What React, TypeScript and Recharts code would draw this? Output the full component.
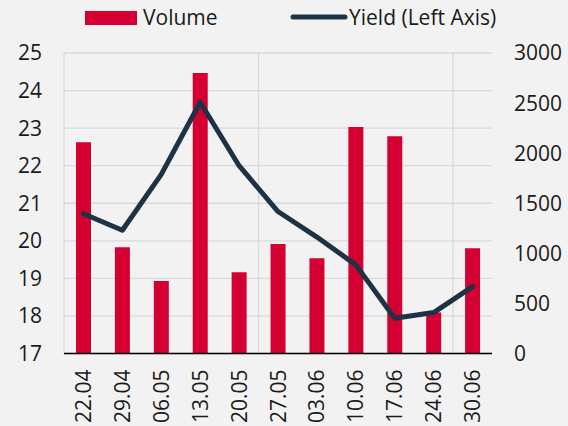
import { Bar, CartesianGrid, ComposedChart, Legend, Line, XAxis, YAxis } from "recharts"

const dates = ["22.04", "29.04", "06.05", "13.05", "20.05", "27.05", "03.06", "10.06", "17.06", "24.06", "30.06"]
const volume = [2110, 1060, 724, 2800, 810, 1093, 950, 2260, 2170, 410, 1050]
const yieldValues = [20.72, 20.28, 21.77, 23.69, 22.0, 20.78, 20.1, 19.36, 17.94, 18.09, 18.78]
const leftTicks = [17, 18, 19, 20, 21, 22, 23, 24, 25]
const rightTicks = [0, 500, 1000, 1500, 2000, 2500, 3000]

const data = dates.map((date, i) => ({ date, volume: volume[i], yield: yieldValues[i] }))

const RED = "#d50032"
const NAVY = "#1e3246"
const FONT = "'Open Sans', sans-serif"

function DateTick({ x, y, payload }: any) {
  return (
    <text
      x={x}
      y={y}
      transform={`rotate(-90, ${x}, ${y})`}
      textAnchor="end"
      dy="0.36em"
      fontSize={21}
      fontFamily={FONT}
      fill="#1a1a1a"
    >
      {payload.value}
    </text>
  )
}

function LegendBox() {
  return (
    <svg width={568} height={40} style={{ display: "block" }}>
      <rect x={85} y={11} width={52} height={14} fill={RED} />
      <text x={143} y={25} fontSize={21} fontFamily={FONT} fill="#1a1a1a">Volume</text>
      <line x1={293} y1={17} x2={345} y2={17} stroke={NAVY} strokeWidth={5} strokeLinecap="round" />
      <text x={349} y={25} fontSize={21} fontFamily={FONT} fill="#1a1a1a">Yield (Left Axis)</text>
    </svg>
  )
}

export default function App() {
  return (
    <div style={{ position: "absolute", left: 0, top: 0, width: 568, height: 426, background: "#f2f2f2" }}>
      <ComposedChart width={568} height={426} data={data} margin={{ top: 53, right: 0, left: 0, bottom: 0 }} barSize={15}>
        <CartesianGrid
          yAxisId="left"
          stroke="#d9d9d9"
          strokeWidth={1.3}
          verticalCoordinatesGenerator={({ offset }: any) =>
            [0, 5, 10].map((i) => offset.left + (offset.width * i) / dates.length)
          }
        />
        <XAxis
          dataKey="date"
          height={72.5}
          interval={0}
          tickLine={false}
          axisLine={{ stroke: "#000", strokeWidth: 1.5 }}
          tickMargin={10}
          tick={<DateTick />}
        />
        <YAxis
          yAxisId="left"
          width={64}
          domain={[17, 25]}
          ticks={leftTicks}
          axisLine={false}
          tickLine={false}
          tickMargin={16}
          tick={{ fill: "#1a1a1a", fontSize: 21, fontFamily: FONT }}
        />
        <YAxis
          yAxisId="right"
          orientation="right"
          width={76}
          domain={[0, 3000]}
          ticks={rightTicks}
          axisLine={false}
          tickLine={false}
          tickMargin={16}
          tick={{ fill: "#1a1a1a", fontSize: 21, fontFamily: FONT, textAnchor: "start" }}
        />
        <Legend verticalAlign="middle" wrapperStyle={{ top: 0, left: 0, width: 568 }} content={<LegendBox />} />
        <Bar yAxisId="right" dataKey="volume" name="Volume" fill={RED} isAnimationActive={false} />
        <Line
          yAxisId="left"
          dataKey="yield"
          name="Yield (Left Axis)"
          stroke={NAVY}
          strokeWidth={5}
          strokeLinejoin="round"
          strokeLinecap="round"
          dot={false}
          activeDot={false}
          isAnimationActive={false}
        />
      </ComposedChart>
    </div>
  )
}
